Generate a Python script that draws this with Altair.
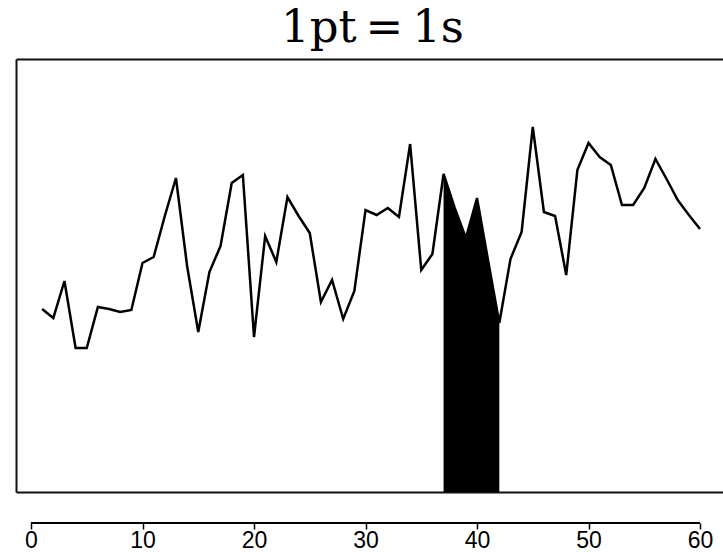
import altair as alt
import pandas as pd

# time (s) and signal level
seconds = list(range(1, 61))
level = [183, 174, 211, 144, 144, 185, 183, 180, 182, 229,
         235, 276, 314, 226, 160, 220, 246, 309, 317, 155,
         256, 230, 295, 276, 259, 190, 212, 173, 201, 282,
         277, 284, 275, 348, 222, 238, 318, 284, 254, 294,
         231, 169, 233, 260, 365, 280, 276, 217, 322, 349,
         335, 327, 287, 287, 304, 333, 313, 292, 277, 263]

# highlighted window (s)
window_start = 37
window_end = 42

tick_values = [0, 10, 20, 30, 40, 50, 60]
title_text = "1pt\u2009=\u20091s"

df = pd.DataFrame({"t": seconds, "v": level})
df_area = df[(df.t >= window_start) & (df.t <= window_end)]
df_span = pd.DataFrame({"a": [tick_values[0]], "b": [tick_values[-1]]})

xscale = alt.Scale(domain=[-1.345, 62.06], nice=False, zero=False)
yscale = alt.Scale(domain=[0, 433], nice=False, zero=True)

frame_axis = dict(domain=True, domainColor="#111", domainWidth=2, ticks=False,
                  labels=False, grid=False, title=None)

area = alt.Chart(df_area).mark_area(color="black", interpolate="linear").encode(
    x=alt.X("t:Q", scale=xscale, axis=alt.Axis(orient="bottom", **frame_axis)),
    y=alt.Y("v:Q", scale=yscale, axis=alt.Axis(orient="left", **frame_axis)),
)

line = alt.Chart(df).mark_line(color="black", strokeWidth=2.5).encode(
    x=alt.X("t:Q", scale=xscale,
            axis=alt.Axis(orient="bottom", offset=31, domain=False, values=tick_values,
                          ticks=True, tickSize=6, tickWidth=1.5, tickColor="black",
                          labels=True, labelFont="Liberation Sans", labelFontSize=23,
                          labelColor="black", labelPadding=0, grid=False, title=None)),
    y=alt.Y("v:Q", scale=yscale, axis=alt.Axis(orient="left", **frame_axis)),
)

span = alt.Chart(df_span).mark_rule(color="black", strokeWidth=2).encode(
    x=alt.X("a:Q", scale=xscale, axis=alt.Axis(orient="top", **frame_axis)),
    x2="b:Q",
    y=alt.value(433 + 31),
)

chart = alt.layer(area, line, span).resolve_axis(x="independent", y="shared").properties(
    width=707,
    height=433,
    padding={"left": 16, "top": 59, "right": 0, "bottom": 60},
    autosize="none",
    title=alt.TitleParams(title_text, font="DejaVu Serif", fontSize=45,
                          fontWeight="normal", color="black", anchor="middle",
                          baseline="alphabetic", offset=16, frame="group", dx=3, dy=44),
).configure_view(stroke=None).configure_axis(grid=False)

chart.save("out.html", embed_options={"renderer": "svg", "actions": False})
